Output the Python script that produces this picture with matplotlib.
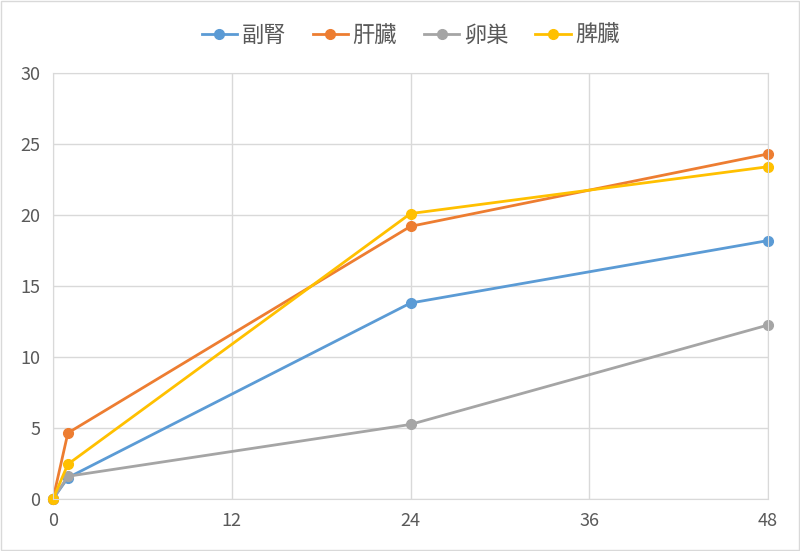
import matplotlib
matplotlib.use("Agg")
import matplotlib.pyplot as plt

plt.rcParams['font.family'] = ['Noto Sans CJK JP', 'DejaVu Sans']

# data
hours = [0, 1, 24, 48]
adrenal = [0, 1.5, 13.8, 18.2]
liver = [0, 4.65, 19.2, 24.3]
ovary = [0, 1.6, 5.25, 12.25]
spleen = [0, 2.45, 20.1, 23.4]
names = ["副腎", "肝臓", "卵巣", "脾臓"]
colors = ["#5B9BD5", "#ED7D31", "#A5A5A5", "#FFC000"]

fig = plt.figure(figsize=(8, 5.51), dpi=100)
ax = fig.add_axes([53 / 800, 1 - 499 / 551, 715 / 800, 426 / 551])

for vals, name, c in zip([adrenal, liver, ovary, spleen], names, colors):
    ax.plot(hours, vals, color=c, lw=2, marker="o", ms=7, label=name, clip_on=False)

ax.set_xlim(0, 48)
ax.set_ylim(0, 30)
ax.set_xticks([0, 12, 24, 36, 48])
ax.set_yticks([0, 5, 10, 15, 20, 25, 30])
ax.grid(True, color="#D9D9D9", lw=1)
ax.set_axisbelow(True)
for s in ax.spines.values():
    s.set_color("#D9D9D9")
ax.tick_params(length=0, labelsize=13, colors="#595959", pad=9)

ax.legend(loc="lower center", bbox_to_anchor=(0.5, 1.015), ncol=4, frameon=False,
          fontsize=16, handlelength=1.6, columnspacing=1.2, handletextpad=0.2,
          labelcolor="#595959")

fig.patches.append(plt.Rectangle((0.001, 0.001), 0.998, 0.998, transform=fig.transFigure,
                                 fill=False, edgecolor="#D9D9D9", lw=1))
fig.savefig("out.png", dpi=100)
